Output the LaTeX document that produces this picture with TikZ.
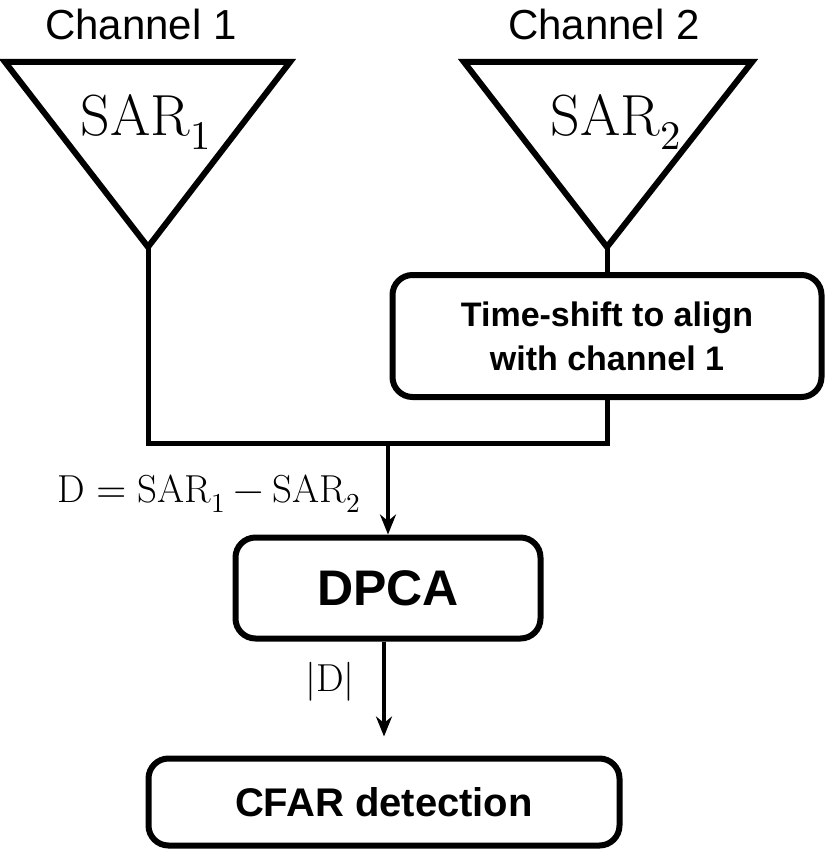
\documentclass[tikz,border=0pt]{standalone}
\usepackage{fontspec}
\usepackage{unicode-math}
\setmathfont{Latin Modern Math}
\setsansfont{Liberation Sans}
\usetikzlibrary{arrows.meta}
\newcommand{\fs}[1]{\fontsize{#1}{#1}\selectfont}
\begin{document}
\begin{tikzpicture}[x=1pt, y=-1pt,
        antenna/.style={line width=6pt},
        block/.style={draw, line width=6pt, rounded corners=20pt, align=center, font=\sffamily\bfseries, inner sep=0pt},
        wire/.style={line width=5pt},
        flow/.style={line width=4pt, -{Stealth[length=20pt, width=16pt]}}]
        \useasboundingbox (0, 0) rectangle (827, 851);

        \node[font=\sffamily\fs{42}] (chan1) at (141, 24) {Channel 1};
        \node[font=\sffamily\fs{42}] (chan2) at (604, 24) {Channel 2};

        \draw[antenna] (5, 62) -- (290, 62) -- (148, 247) -- cycle;
        \draw[antenna] (464, 62) -- (752, 62) -- (607, 247) -- cycle;
        \coordinate (apex1) at (148, 247);
        \coordinate (apex2) at (607, 247);
        \node[font=\fs{58}] (sar1) at (146, 122) {$\mathrm{SAR}_1$};
        \node[font=\fs{58}] (sar2) at (616, 122) {$\mathrm{SAR}_2$};

        \node[block, minimum width=429, minimum height=122, font=\sffamily\bfseries\fs{34}] (shift) at (607, 336)
            {Time-shift to align\\[10pt] with channel 1};

        \coordinate (merge) at (607, 443);
        \coordinate (tap) at (388, 443);
        \draw[wire] (apex2) -- (shift.north);
        \draw[wire, line cap=rect] (apex1) |- (merge) -- (shift.south);

        \node[block, minimum width=305, minimum height=101, font=\sffamily\bfseries\fs{50}] (dpca) at (388, 588) {DPCA};
        \node[block, minimum width=471, minimum height=87, font=\sffamily\bfseries\fs{40}] (cfar) at (384, 802) {CFAR detection};

        \draw[flow] (tap) -- (dpca.north);
        \draw[flow, shorten >=19pt] (cfar.north |- dpca.south) -- (cfar.north);

        \node[anchor=east, font=\fs{39}] (diff) at (364, 494) {$\mathrm{D} = \mathrm{SAR}_1 - \mathrm{SAR}_2$};
        \node[anchor=east, font=\fs{39}] (absd) at (358, 682) {$|\mathrm{D}|$};
    \end{tikzpicture}
\end{document}
